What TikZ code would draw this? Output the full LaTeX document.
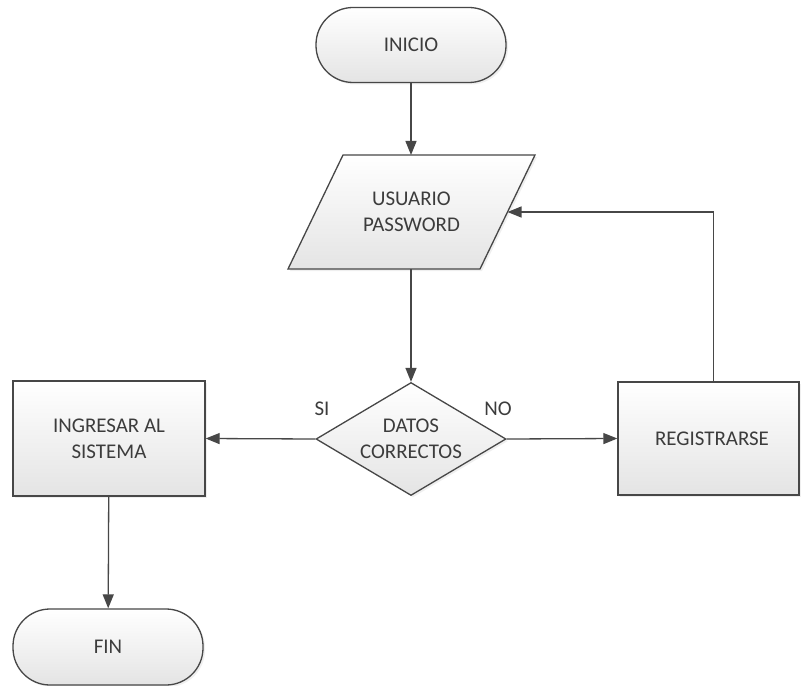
\documentclass[tikz,border=0pt]{standalone}
\usepackage{fontspec}
\setmainfont{Carlito}
\usetikzlibrary{shapes.geometric,arrows.meta,shadows}
\definecolor{ln}{HTML}{474747}
\definecolor{tx}{HTML}{3C3C3C}
\definecolor{fb}{HTML}{E4E4E4}
\begin{document}
\begin{tikzpicture}[x=1bp,y=-1bp,
  txt/.style={text=tx, font=\fontsize{21}{26}\selectfont, align=center},
  box/.style={draw=ln, line width=1.3bp, top color=white, bottom color=fb,
    drop shadow={opacity=0.12,shadow xshift=2bp,shadow yshift=-2bp},
    txt, inner sep=0pt},
  term/.style={box, rectangle, rounded corners=37bp, minimum width=190bp, minimum height=75bp},
  proc/.style={box, rectangle, minimum width=190bp, minimum height=114bp},
  dec/.style={box, diamond, minimum width=190bp, minimum height=113bp, aspect=1.68},
  arr/.style={draw=ln, line width=1.3bp, -{Triangle[length=14bp,width=11bp]}}]
\useasboundingbox (0,0) rectangle (801,686);
\fill[white] (0,0) rectangle (801,686);

\node[term] (inicio) at (411,45) {INICIO};

\path[box] (343,155) -- (535,155) -- (480,269) -- (288,269) -- cycle;
\node[txt] (io) at (411.5,212) {USUARIO\\PASSWORD};
\coordinate (ioT) at (411,155);
\coordinate (ioB) at (411,269);
\coordinate (ioR) at (507.5,212);

\node[dec] (dec) at (411,439) {DATOS\\CORRECTOS};
\node[proc, minimum width=192bp, minimum height=115bp] (ing) at (109,438.5) {INGRESAR AL\\SISTEMA};
\node[proc, minimum width=181bp, minimum height=113bp] (reg) at (708.5,438.5) {\hspace*{7bp}REGISTRARSE};
\node[term, minimum height=76bp] (fin) at (108,647) {FIN};

\node[txt] (si) at (322,409) {SI};
\node[txt] (no) at (498,409) {NO};

\draw[arr] (inicio) -- (ioT);
\draw[arr] (ioB) -- (dec.north);
\draw[arr] (dec.west) -- (ing.east);
\draw[arr] (dec.east) -- (reg.west);
\draw[arr] ([xshift=5bp]reg.north) |- (ioR);
\draw[arr] (ing) -- (fin);
\end{tikzpicture}
\end{document}
